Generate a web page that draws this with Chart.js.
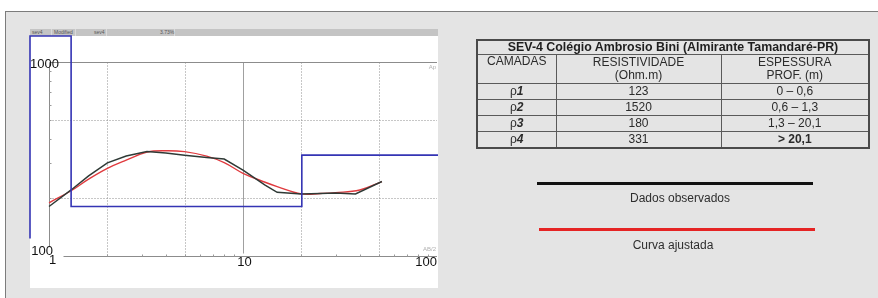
<!DOCTYPE html>
<html>
<head>
<meta charset="utf-8">
<script src="https://cdn.jsdelivr.net/npm/chart.js@4.4.0/dist/chart.umd.min.js"></script>
<style>
body { margin:0; width:878px; height:298px; overflow:hidden; background:#fff; position:relative;
       font-family:"Liberation Sans", Arial, sans-serif; }
#frame { position:absolute; left:5px; top:11px; width:880px; height:300px; background:#e4e4e4;
         border-top:1px solid #7c7c7c; border-left:1px solid #7c7c7c; }
#toolbar { position:absolute; left:30px; top:29px; width:408px; height:7px; background:#c4c4c4; }
#toolbar span { position:absolute; top:0; height:7px; font-size:5px; line-height:7px; color:#555;
                border-right:1px solid #dadada; padding-left:2px; box-sizing:border-box; }
#panel { position:absolute; left:30px; top:36px; width:408px; height:252px; background:#fff; }
#graph_sev { position:absolute; left:0; top:0; }
#sev { position:absolute; left:476px; top:39px; width:394px; border-collapse:collapse; table-layout:fixed;
       font-size:12px; color:#2b2b2b; border:2px solid #4a4a4a; }
#sev td { border:1px solid #5a5a5a; text-align:center; padding:0; line-height:13px; }
#sev .ttl { font-weight:bold; color:#1e1e1e; font-size:12.4px; }
#sev i { font-weight:bold; }
.lg-line { position:absolute; height:3px; }
.lg-text { position:absolute; font-size:12px; color:#2e2e2e; line-height:14px; transform:translateX(-50%); white-space:nowrap; }
</style>
</head>
<body>
<div id="frame"></div>
<div id="toolbar">
	<span style="left:0;width:22px">sev4</span>
	<span style="left:22px;width:24px">Modified</span>
	<span style="left:46px;width:31px;padding-left:18px">sev4</span>
	<span style="left:77px;width:68px;padding-left:53px">3.73%</span>
</div>
<div id="panel"></div>
<canvas id="graph_sev" width="878" height="298"></canvas>

<table id="sev">
	<colgroup><col style="width:79px"><col style="width:165px"><col style="width:148px"></colgroup>
	<tr style="height:13px"><td class="ttl" colspan="3">SEV-4 Colégio Ambrosio Bini (Almirante Tamandaré-PR)</td></tr>
	<tr style="height:29px"><td style="vertical-align:top">CAMADAS</td><td>RESISTIVIDADE<br>(Ohm.m)</td><td>ESPESSURA<br>PROF. (m)</td></tr>
	<tr style="height:16px"><td>ρ<i>1</i></td><td>123</td><td>0 – 0,6</td></tr>
	<tr style="height:16px"><td>ρ<i>2</i></td><td>1520</td><td>0,6 – 1,3</td></tr>
	<tr style="height:16px"><td>ρ<i>3</i></td><td>180</td><td>1,3 – 20,1</td></tr>
	<tr style="height:16px"><td>ρ<i>4</i></td><td>331</td><td><b>&gt; 20,1</b></td></tr>
</table>

<div class="lg-line" style="left:537px;top:182px;width:276px;background:#111"></div>
<div class="lg-text" style="left:680px;top:191px">Dados observados</div>
<div class="lg-line" style="left:539px;top:228px;width:276px;background:#e52424"></div>
<div class="lg-text" style="left:673px;top:238px">Curva ajustada</div>

<script>
// observed apparent resistivity (AB/2 in m, rho in Ohm.m)
const abObs = [1, 1.3, 1.6, 2, 2.5, 3.2, 4, 5, 6.5, 8, 10, 13, 15, 20, 25, 30, 38, 52];
const rhoObs = [180, 219, 259, 302, 328, 346, 340, 331, 322, 316, 277, 232, 213, 209, 210, 211, 209, 242];

// fitted curve
const abFit = [1, 1.3, 1.6, 2, 2.5, 3.2, 4, 5, 6.5, 8, 10, 13, 15, 20, 25, 30, 40, 52];
const rhoFit = [188, 217, 249, 283, 312, 343, 349, 345, 327, 303, 267, 240, 228, 209, 210, 212, 219, 242];

// layer model
const layerRho = [123, 1520, 180, 331];
const layerDepth = [0.6, 1.3, 20.1];

// grid / ticks
const xDotted = [2, 5, 20, 50];
const xSolid = [10];
const yDotted = [200, 500];
const xTickLabels = [1, 10, 100];
const yTickLabels = [1000, 100];

// visible range of the panel
const X_MIN = 0.798, X_MAX = 101.2;
const Y_MIN = 68.4, Y_MAX = 1362;

function clamp(v, lo, hi) {
	return Math.min(hi, Math.max(lo, v));
}

function modelPoints() {
	let pts = [];
	pts.push({ x: clamp(layerDepth[0], X_MIN, X_MAX), y: clamp(layerRho[0], Y_MIN, Y_MAX) });
	for (let i = 0; i < layerDepth.length; i++) {
		let d = clamp(layerDepth[i], X_MIN, X_MAX);
		if (i > 0) pts.push({ x: d, y: clamp(layerRho[i], Y_MIN, Y_MAX) });
		pts.push({ x: d, y: clamp(layerRho[i + 1], Y_MIN, Y_MAX) });
	}
	pts.push({ x: X_MAX, y: clamp(layerRho[layerRho.length - 1], Y_MIN, Y_MAX) });
	return pts;
}

function toPoints(xs, ys) {
	return xs.map(function(x, i) { return { x: x, y: ys[i] }; });
}

function seg(ctx, x1, y1, x2, y2) {
	ctx.beginPath();
	ctx.moveTo(x1, y1);
	ctx.lineTo(x2, y2);
	ctx.stroke();
}

const sevGrid = {
	id: 'sevGrid',
	beforeDatasetsDraw(chart) {
		const ctx = chart.ctx;
		const xs = chart.scales.x, ys = chart.scales.y;
		const x1 = Math.round(xs.getPixelForValue(1)) + 0.5;
		const x100 = xs.getPixelForValue(100);
		const yTop = Math.round(ys.getPixelForValue(1000)) + 0.5;
		const yBot = Math.round(ys.getPixelForValue(100)) + 0.5;
		ctx.save();
		ctx.lineWidth = 1;

		// dotted grid
		ctx.strokeStyle = '#8e8e8e';
		ctx.setLineDash([1, 2]);
		xDotted.forEach(function(v) {
			let px = Math.round(xs.getPixelForValue(v)) + 0.5;
			seg(ctx, px, yTop, px, yBot - 1);
		});
		yDotted.forEach(function(v) {
			let py = Math.round(ys.getPixelForValue(v)) + 0.5;
			seg(ctx, x1, py, x100, py);
		});
		ctx.setLineDash([]);

		// solid grid + frame
		ctx.strokeStyle = '#a0a0a0';
		xSolid.forEach(function(v) {
			let px = Math.round(xs.getPixelForValue(v)) + 0.5;
			seg(ctx, px, yTop, px, yBot - 3);
		});
		ctx.strokeStyle = '#8c8c8c';
		seg(ctx, x1, yTop, x100, yTop);
		seg(ctx, x1, yTop, x1, yBot - 10);
		seg(ctx, x1 + 14, yBot, x100, yBot);

		// minor ticks
		ctx.strokeStyle = '#9a9a9a';
		for (let m = 2; m <= 9; m++) {
			let py = Math.round(ys.getPixelForValue(m * 100)) + 0.5;
			seg(ctx, x1, py, x1 + 2, py);
			[1, 10].forEach(function(dec) {
				let px = Math.round(xs.getPixelForValue(m * dec)) + 0.5;
				if (px > x1 + 14) seg(ctx, px, yBot, px, yBot - 2);
			});
		}
		ctx.restore();
	},
	afterDatasetsDraw(chart) {
		const ctx = chart.ctx;
		const xs = chart.scales.x, ys = chart.scales.y;
		ctx.save();
		ctx.fillStyle = '#111';
		ctx.font = '13px "Liberation Sans", Arial, sans-serif';
		ctx.textBaseline = 'middle';

		// y labels
		ctx.textAlign = 'left';
		ctx.fillText(String(yTickLabels[0]), xs.getPixelForValue(1) - 19, ys.getPixelForValue(yTickLabels[0]) + 2);
		ctx.textAlign = 'right';
		ctx.fillText(String(yTickLabels[1]), xs.getPixelForValue(1) + 4, ys.getPixelForValue(yTickLabels[1]) - 5);

		// x labels
		const yLab = ys.getPixelForValue(100) + 5.5;
		ctx.textAlign = 'center';
		ctx.fillText(String(xTickLabels[0]), xs.getPixelForValue(xTickLabels[0]) + 3.5, yLab - 1);
		ctx.fillText(String(xTickLabels[1]), xs.getPixelForValue(xTickLabels[1]) + 1.5, yLab + 1);
		ctx.textAlign = 'right';
		ctx.fillText(String(xTickLabels[2]), xs.getPixelForValue(xTickLabels[2]), yLab + 1);

		// faint axis names
		ctx.fillStyle = '#b0b0b0';
		ctx.font = '6px "Liberation Sans", Arial, sans-serif';
		ctx.textAlign = 'right';
		ctx.fillText('Ap', xs.getPixelForValue(100) - 1, ys.getPixelForValue(1000) + 5);
		ctx.fillText('AB/2', xs.getPixelForValue(100) - 1, ys.getPixelForValue(100) - 7);
		ctx.restore();
	}
};

document.addEventListener("DOMContentLoaded", function() {
	const ctx = document.getElementById('graph_sev').getContext('2d');
	new Chart(ctx, {
		type: 'line',
		data: {
			datasets: [
				{
					label: 'Modelo',
					data: modelPoints(),
					borderColor: '#3434b4',
					borderWidth: 1.6,
					pointRadius: 0,
					tension: 0,
					clip: false
				},
				{
					label: 'Dados observados',
					data: toPoints(abObs, rhoObs),
					borderColor: '#2f3a36',
					borderWidth: 1.5,
					pointRadius: 0,
					tension: 0
				},
				{
					label: 'Curva ajustada',
					data: toPoints(abFit, rhoFit),
					borderColor: '#e03a3e',
					borderWidth: 1.4,
					pointRadius: 0,
					tension: 0.4
				}
			]
		},
		options: {
			responsive: false,
			animation: false,
			layout: { padding: { left: 30, top: 36, right: 440, bottom: 10 } },
			scales: {
				x: { type: 'logarithmic', min: X_MIN, max: X_MAX, display: false },
				y: { type: 'logarithmic', min: Y_MIN, max: Y_MAX, display: false }
			},
			plugins: {
				legend: { display: false },
				tooltip: { enabled: false }
			}
		},
		plugins: [sevGrid]
	});
});
</script>
</body>
</html>
